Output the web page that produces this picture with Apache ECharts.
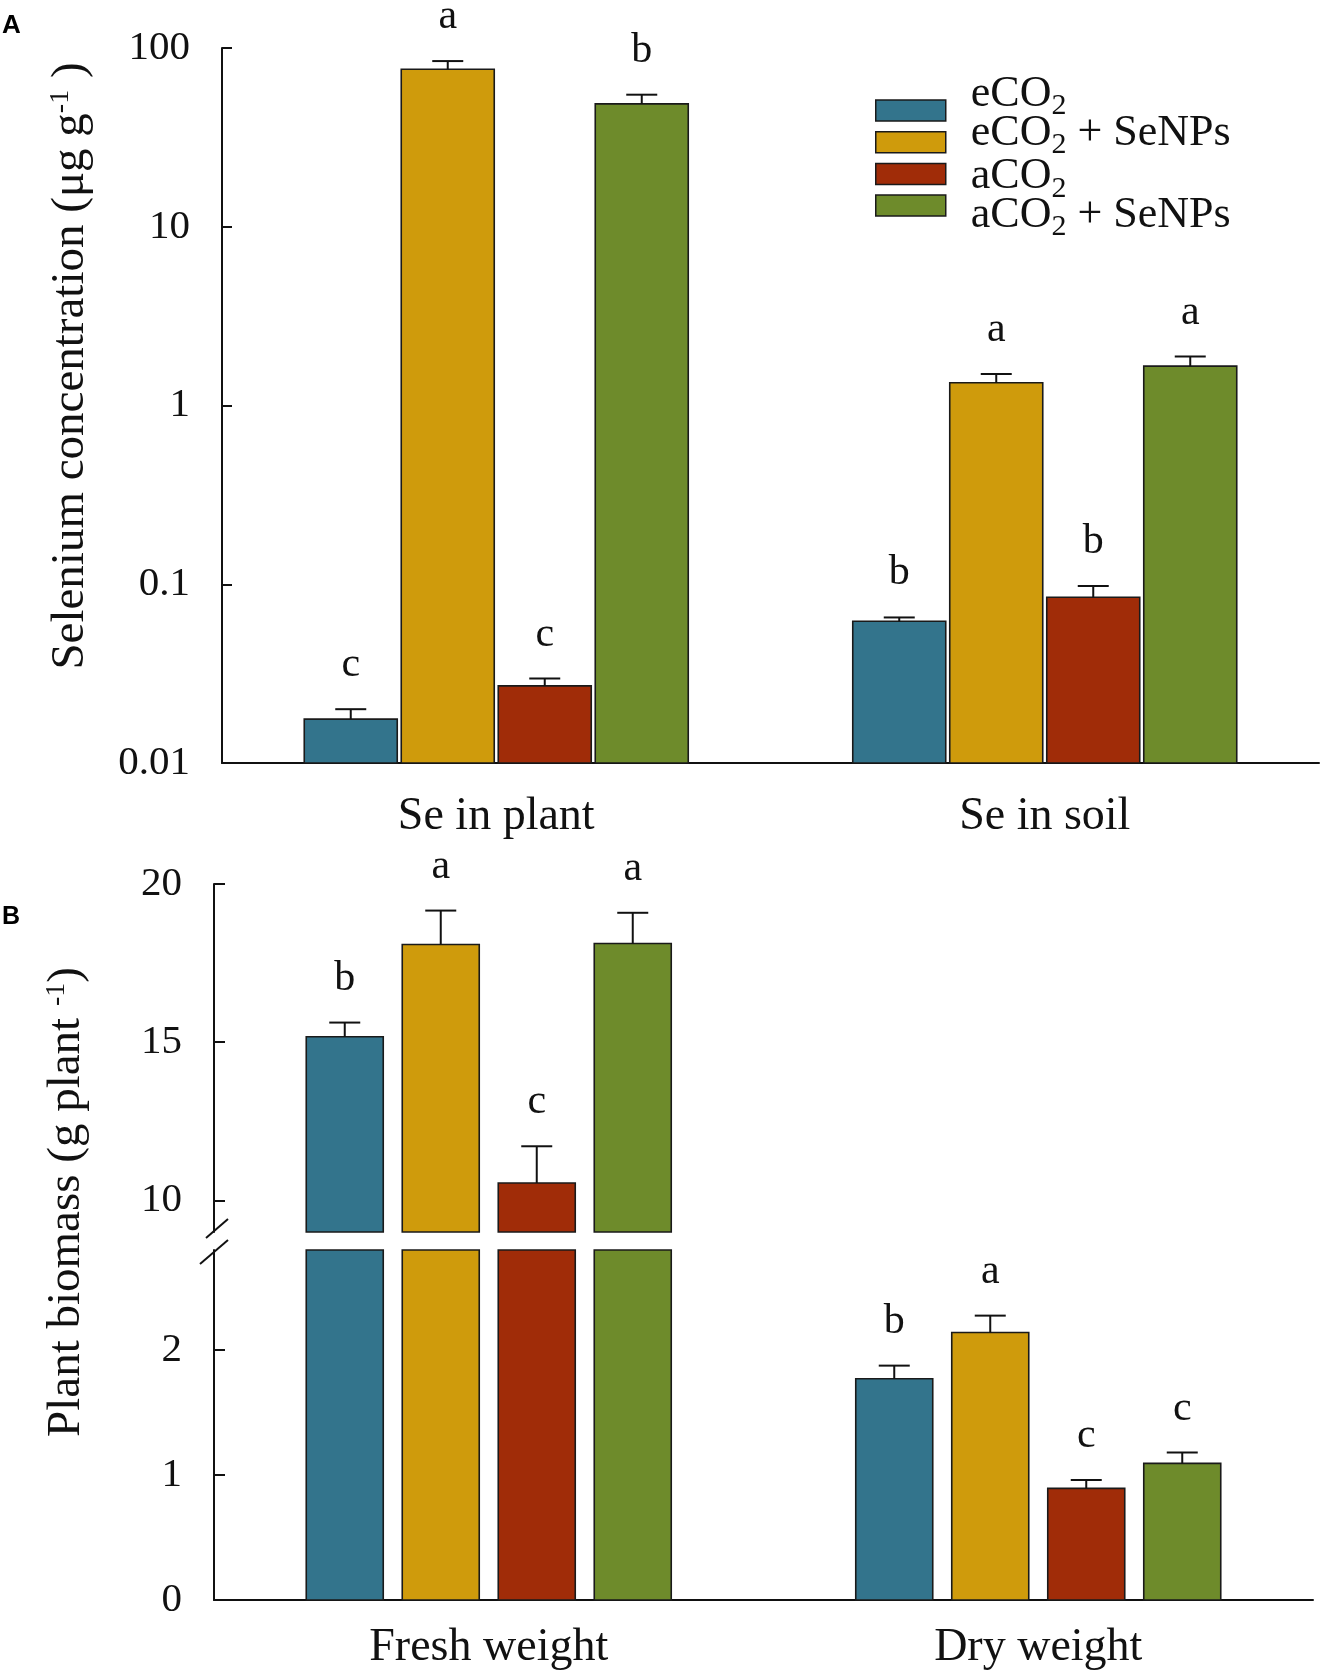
<!DOCTYPE html>
<html><head><meta charset="utf-8">
<script src="https://cdn.jsdelivr.net/npm/echarts@6/dist/echarts.min.js"></script>
<style>html,body{margin:0;padding:0;background:#fff}#c{width:1336px;height:1677px}</style>
</head><body><div id="c"></div>
<script>
// ---------- data ----------
const seriesNames = ['eCO2', 'eCO2 + SeNPs', 'aCO2', 'aCO2 + SeNPs'];
const seriesColors = ['#33748c', '#cf9b0c', '#a02c08', '#6e8b2b'];

const categoriesA = ['Se in plant', 'Se in soil'];
const tickLabelsA = ['0.01', '0.1', '1', '10', '100'];
const seMeanA = [[0.0176, 0.0621], [76, 1.34], [0.027, 0.0846], [48.7, 1.66]];
const seErrA = [[0.0024, 0.0031], [8.5, 0.16], [0.0027, 0.0132], [6.1, 0.22]];
const seLettersA = [['c', 'b'], ['a', 'a'], ['c', 'b'], ['b', 'a']];

const categoriesB = ['Fresh weight', 'Dry weight'];
const tickValuesBUpper = [10, 15, 20];
const tickValuesBLower = [0, 1, 2];
const biomassMeanB = [[15.17, 1.77], [18.09, 2.14], [10.55, 0.893], [18.12, 1.093]];
const biomassErrB = [[0.45, 0.105], [1.07, 0.135], [1.16, 0.067], [0.97, 0.087]];
const biomassLettersB = [['b', 'b'], ['a', 'a'], ['c', 'c'], ['a', 'c']];

// ---------- layout / style ----------
const serif = 'Liberation Serif';
const ink = '#111';
const gridA = {left: 222, right: 17, top: 48, height: 715};
const gridBU = {left: 214, right: 23, top: 884, height: 348};
const gridBL = {left: 214, right: 23, top: 1250, height: 350};
const rangeA = [0.01, 100], rangeBU = [9, 20], rangeBL = [0, 2.8];
// legend text lines are spaced wider than the legend swatches: per-row vertical padding
const legendPadTop = [1.5, 8.5, 20.5, 27.5];
const legendPadSum = 30;

function makeRender(s, letters, lo, hi, barW, gap) {
  return function (params, api) {
    const i = params.dataIndex;
    const cat = api.value(0), mean = api.value(1), err = api.value(2);
    if (mean <= lo) return null;
    const base = api.coord([cat, lo]);
    const cx = base[0] + (s - 1.5) * (barW + gap);
    const yTop = api.coord([cat, Math.min(mean, hi)])[1];
    const children = [{
      type: 'rect',
      shape: {x: cx - barW / 2, y: yTop, width: barW, height: base[1] - yTop},
      style: {fill: seriesColors[s], stroke: '#1a1a1a', lineWidth: 1.6}
    }];
    if (mean < hi) {
      const yErr = api.coord([cat, mean + err])[1];
      children.push({type: 'line', shape: {x1: cx, y1: yTop, x2: cx, y2: yErr}, style: {stroke: ink, lineWidth: 2}});
      children.push({type: 'line', shape: {x1: cx - 15.5, y1: yErr, x2: cx + 15.5, y2: yErr}, style: {stroke: ink, lineWidth: 2}});
      children.push({type: 'text', x: cx, y: yErr - 23,
        style: {text: letters[s][i], fontSize: 42, fontFamily: serif, fill: ink, align: 'center', verticalAlign: 'bottom'}});
    }
    return {type: 'group', children};
  };
}

const series = [];
function addSeries(means, errs, letters, xi, range, barW, gap) {
  for (let s = 0; s < 4; s++) {
    series.push({
      type: 'custom', name: seriesNames[s], xAxisIndex: xi, yAxisIndex: xi,
      itemStyle: {color: seriesColors[s]},
      encode: {x: 0, y: 1},
      renderItem: makeRender(s, letters, range[0], range[1], barW, gap),
      data: means[s].map((m, i) => [i, m, errs[s][i]])
    });
  }
}
addSeries(seMeanA, seErrA, seLettersA, 0, rangeA, 93, 4);
addSeries(biomassMeanB, biomassErrB, biomassLettersB, 1, rangeBU, 77, 19);
addSeries(biomassMeanB, biomassErrB, biomassLettersB, 2, rangeBL, 77, 19);

const axisLine = {show: true, onZero: false, lineStyle: {color: ink, width: 2}};
const tickStyle = {color: ink, width: 2};
const yLabel = {margin: 32, fontSize: 41, fontFamily: serif, color: ink};

const option = {
  animation: false,
  backgroundColor: '#fff',
  grid: [
    Object.assign({outerBoundsMode: 'none'}, gridA),
    Object.assign({outerBoundsMode: 'none'}, gridBU),
    Object.assign({outerBoundsMode: 'none'}, gridBL)
  ],
  legend: {
    data: seriesNames.map((n, k) => ({
      name: n,
      textStyle: {padding: [legendPadTop[k], 0, legendPadSum - legendPadTop[k], 20]}
    })),
    orient: 'vertical', left: 875, top: 71, padding: 0,
    itemWidth: 70, itemHeight: 21, itemGap: -47.3, icon: 'rect', selectedMode: false,
    itemStyle: {borderColor: '#1a1a1a', borderWidth: 1.5},
    formatter: n => '{m|' + n.replace('CO2', 'CO}{s|2}{m|') + '}',
    textStyle: {
      fontFamily: serif, fontSize: 44, lineHeight: 49, color: ink,
      rich: {
        m: {fontFamily: serif, fontSize: 44, lineHeight: 49, verticalAlign: 'top', color: ink},
        s: {fontFamily: serif, fontSize: 30, lineHeight: 49, verticalAlign: 'bottom', color: ink}
      }
    }
  },
  xAxis: [
    {gridIndex: 0, type: 'category', data: categoriesA, axisLine,
      axisTick: {alignWithLabel: true, length: 12, lineStyle: tickStyle},
      axisLabel: {margin: 31, fontSize: 46, fontFamily: serif, color: ink}},
    {gridIndex: 1, type: 'category', data: categoriesB, show: false},
    {gridIndex: 2, type: 'category', data: categoriesB, axisLine,
      axisTick: {alignWithLabel: true, inside: true, length: 8, lineStyle: tickStyle},
      axisLabel: {margin: 25, fontSize: 46, fontFamily: serif, color: ink}}
  ],
  yAxis: [
    {gridIndex: 0, type: 'log', logBase: 10, min: rangeA[0], max: rangeA[1], axisLine,
      axisTick: {show: true, inside: true, length: 10, lineStyle: tickStyle},
      axisLabel: Object.assign({formatter: v => tickLabelsA[Math.round(Math.log10(v)) + 2]}, yLabel),
      splitLine: {show: false}, minorTick: {show: false}},
    {gridIndex: 1, type: 'value', min: rangeBU[0], max: rangeBU[1], axisLine,
      axisTick: {show: true, inside: true, length: 11, lineStyle: tickStyle, customValues: tickValuesBUpper},
      axisLabel: Object.assign({customValues: tickValuesBUpper}, yLabel),
      splitLine: {show: false}},
    {gridIndex: 2, type: 'value', min: rangeBL[0], max: rangeBL[1], axisLine,
      axisTick: {show: true, inside: true, length: 11, lineStyle: tickStyle, customValues: tickValuesBLower},
      axisLabel: Object.assign({customValues: tickValuesBLower}, yLabel),
      splitLine: {show: false}}
  ],
  series
};

const chart = echarts.init(document.getElementById('c'), null, {renderer: 'canvas'});
chart.setOption(option);

const yUpperBottom = chart.convertToPixel({yAxisIndex: 1}, rangeBU[0]);
const yLowerTop = chart.convertToPixel({yAxisIndex: 2}, rangeBL[1]);
const ax = gridBU.left;
const titleRich = {
  m: {fontFamily: serif, fontSize: 47, lineHeight: 48, verticalAlign: 'middle', fill: ink},
  p: {fontFamily: serif, fontSize: 28, lineHeight: 26, verticalAlign: 'top', fill: ink}
};
chart.setOption({
  graphic: {elements: [
    {id: 'pA', type: 'text', x: 2, y: 13, style: {text: 'A', font: 'bold 26px "Liberation Sans"', fill: '#000', align: 'left', verticalAlign: 'top'}},
    {id: 'pB', type: 'text', x: 2, y: 905, style: {text: 'B', font: 'bold 25px "Liberation Sans"', fill: '#000', align: 'left', verticalAlign: 'top'}},
    {id: 'tA', type: 'text', x: 71, y: 366, rotation: Math.PI / 2,
      style: {text: '{m|Selenium concentration (μg g}{p|-1}{m| )}', rich: titleRich, align: 'center', verticalAlign: 'middle', fill: ink}},
    {id: 'tB', type: 'text', x: 67, y: 1202, rotation: Math.PI / 2,
      style: {text: '{m|Plant biomass (g plant }{p|-1}{m|)}', rich: titleRich, align: 'center', verticalAlign: 'middle', fill: ink}},
    {id: 'b1', type: 'line', shape: {x1: ax - 8, y1: yUpperBottom + 6, x2: ax + 14, y2: yUpperBottom - 13}, style: {stroke: ink, lineWidth: 2}},
    {id: 'b2', type: 'line', shape: {x1: ax - 14, y1: yLowerTop + 14, x2: ax + 14, y2: yLowerTop - 10}, style: {stroke: ink, lineWidth: 2}}
  ]}
});
</script>
</body></html>
